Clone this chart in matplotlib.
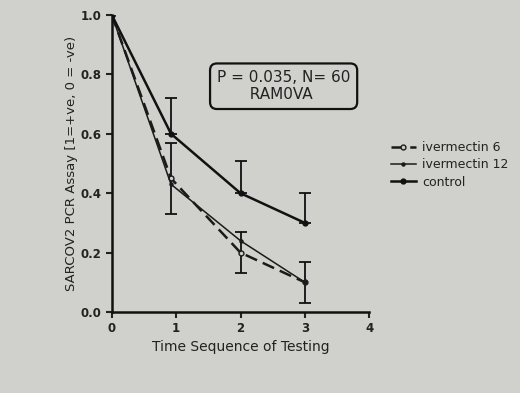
import matplotlib
matplotlib.use("Agg")
import matplotlib.pyplot as plt

x = [0, 0.92, 2, 3]
ivermectin6 = [1.0, 0.45, 0.20, 0.10]
ivermectin6_err = [0.0, 0.12, 0.07, 0.07]
ivermectin12 = [1.0, 0.43, 0.24, 0.10]
control = [1.0, 0.60, 0.40, 0.30]
control_err = [0.0, 0.12, 0.11, 0.10]
xticks = [0, 1, 2, 3, 4]
yticks = [0.0, 0.2, 0.4, 0.6, 0.8, 1.0]

bg = "#d0d0cc"
fig = plt.figure(figsize=(5.2, 3.93), dpi=100, facecolor=bg)
ax = fig.add_axes([0.215, 0.206, 0.495, 0.756], facecolor=bg)

ax.errorbar(x[1:], control[1:], yerr=[[0]*3, control_err[1:]], fmt="none",
            ecolor="#111111", elinewidth=1.3, capsize=4, capthick=1.3)
ax.errorbar(x[1:], ivermectin6[1:], yerr=ivermectin6_err[1:], fmt="none",
            ecolor="#111111", elinewidth=1.3, capsize=4, capthick=1.3)
ax.plot(x, ivermectin6, color="#1a1a1a", lw=1.8, ls=(0, (5, 2.5)), marker="o",
        ms=3.5, mfc=bg, mec="#1a1a1a", label="ivermectin 6")
ax.plot(x, ivermectin12, color="#1a1a1a", lw=1.1, marker="o", ms=2.2,
        label="ivermectin 12")
ax.plot(x, control, color="#111111", lw=1.8, marker="o", ms=3.5,
        label="control")

ax.set_xlim(0, 4)
ax.set_ylim(0, 1.0)
ax.set_xticks(xticks)
ax.set_yticks(yticks)
ax.set_yticklabels([f"{v:.1f}" for v in yticks])
for s in ["top", "right"]:
    ax.spines[s].set_visible(False)
for s in ["left", "bottom"]:
    ax.spines[s].set_linewidth(1.8)
    ax.spines[s].set_color("#111111")
ax.tick_params(direction="out", length=4, width=1.5, labelsize=8.5, colors="#222222")
for lab in ax.get_xticklabels() + ax.get_yticklabels():
    lab.set_fontweight("bold")

ax.set_xlabel("Time Sequence of Testing", fontsize=10, color="#222222", labelpad=3)
ax.set_ylabel("SARCOV2 PCR Assay [1=+ve, 0 = -ve)", fontsize=9.5, color="#222222", labelpad=2)

ax.text(2.67, 0.76, "P = 0.035, N= 60\n  RAM0VA   ", fontsize=11, color="#222222",
        ha="center", va="center", linespacing=1.15,
        bbox=dict(boxstyle="round,pad=0.45", fc=bg, ec="#111111", lw=1.6))

fig.legend(loc="upper left", bbox_to_anchor=(0.73, 0.67), frameon=False,
           fontsize=9, handlelength=2.0, labelspacing=0.35, handletextpad=0.5,
           labelcolor="#222222")

fig.savefig("out.png", dpi=100, facecolor=bg)
